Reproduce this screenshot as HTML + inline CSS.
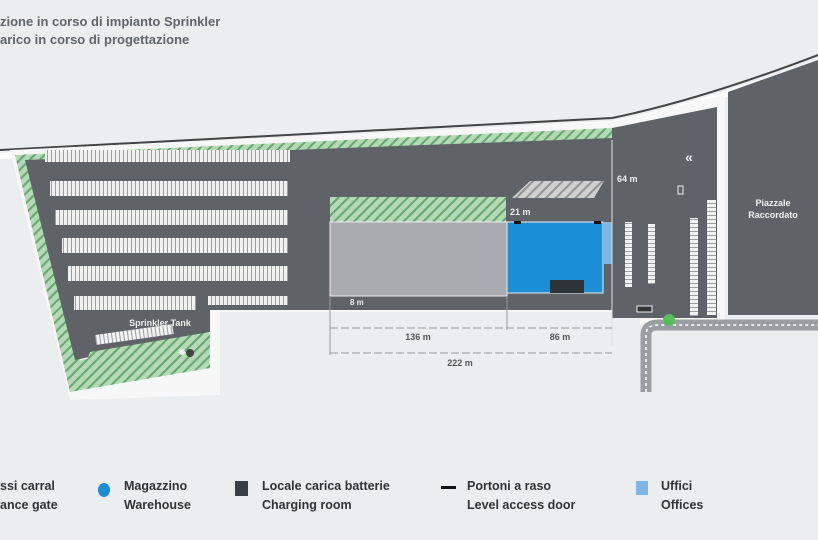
<!DOCTYPE html>
<html><head><meta charset="utf-8"><style>
html,body{margin:0;padding:0;background:#ebedee;}
svg{display:block}
text{font-family:"Liberation Sans",sans-serif;font-weight:bold}
</style></head><body>
<svg width="818" height="540" viewBox="0 0 818 540" xmlns="http://www.w3.org/2000/svg">
<defs>
<pattern id="hatch" width="7" height="7" patternUnits="userSpaceOnUse" patternTransform="rotate(45)">
<rect width="7" height="7" fill="#b2dbb5"/><rect width="2" height="7" fill="#68a470"/></pattern>
<pattern id="park" width="4" height="10" patternUnits="userSpaceOnUse">
<rect width="4" height="10" fill="#f2f2f2"/><rect x="3" width="1" height="10" fill="#9a9da1"/></pattern>
<pattern id="vpark" width="10" height="4" patternUnits="userSpaceOnUse">
<rect width="10" height="4" fill="#f2f2f2"/><rect y="3" width="10" height="1" fill="#9a9da1"/></pattern>
</defs>
<rect width="818" height="540" fill="#ebedee"/>
<text x="0" y="26" font-size="13" fill="#60656b">zione in corso di impianto Sprinkler</text>
<text x="0" y="44" font-size="13" fill="#60656b">arico in corso di progettazione</text>
<path d="M0,150 L612,118 Q700,100 818,55" stroke="#444" stroke-width="2" fill="none"/>
<path d="M0,156 L612,124 Q700,106 818,62" stroke="#fff" stroke-width="6" fill="none"/>
<polygon points="10,150 612,122 725,95 725,325 640,325 640,312 220,312 220,395 70,400" fill="#f7f7f7"/>
<polygon points="15,155 612,128 612,145 40,165 80,360 210,340 210,368 70,392" fill="url(#hatch)"/>
<polygon points="25,160 612,138 612,310 210,310 210,332 75,360" fill="#5f6367"/>
<polygon points="612,128 717,107 717,318 612,318" fill="#5f6367"/>
<polygon points="728,92 818,60 818,315 728,315" fill="#5f6367"/>
<text x="773" y="206" font-size="9" fill="#f0f0f0" text-anchor="middle">Piazzale</text>
<text x="773" y="218" font-size="9" fill="#f0f0f0" text-anchor="middle">Raccordato</text>
<polygon points="90,352 210,332 210,368 80,380" fill="url(#hatch)"/>
<rect x="45" y="150" width="245" height="12" fill="url(#park)"/>
<rect x="50" y="181" width="238" height="15" fill="url(#park)"/>
<rect x="55" y="210" width="233" height="15" fill="url(#park)"/>
<rect x="62" y="238" width="226" height="15" fill="url(#park)"/>
<rect x="68" y="266" width="220" height="15" fill="url(#park)"/>
<rect x="74" y="296" width="122" height="14" fill="url(#park)"/>
<rect x="208" y="296" width="80" height="9" fill="url(#park)"/>
<rect x="95" y="335" width="78" height="10" fill="url(#park)" transform="rotate(-8 95 335)"/>
<text x="160" y="326" font-size="9" fill="#eee" text-anchor="middle">Sprinkler Tank</text>
<circle cx="190" cy="353" r="4" fill="#444"/><circle cx="182" cy="352" r="3" fill="#eee"/>
<rect x="330" y="197" width="176" height="25" fill="url(#hatch)"/>
<rect x="330" y="222" width="177" height="74" fill="#a9abb0" stroke="#eee"/>
<text x="350" y="305" font-size="8" fill="#eee">8 m</text>
<rect x="507" y="222" width="96" height="71" fill="#1a8fd6" stroke="#eee"/>
<rect x="603" y="222" width="9" height="42" fill="#7fb7e3"/>
<rect x="550" y="280" width="34" height="13" fill="#2e3338"/>
<rect x="514" y="221" width="7" height="3" fill="#111"/><rect x="594" y="221" width="7" height="3" fill="#111"/>
<polygon points="530,181 604,181 594,198 512,198" fill="url(#hatch)" style="filter:grayscale(1)"/>
<rect x="625" y="222" width="7" height="65" fill="url(#vpark)"/>
<rect x="648" y="224" width="7" height="60" fill="url(#vpark)"/>
<rect x="690" y="218" width="8" height="98" fill="url(#vpark)"/>
<rect x="707" y="200" width="9" height="115" fill="url(#vpark)"/>
<text x="689" y="162" font-size="14" fill="#eee" text-anchor="middle">«</text>
<rect x="678" y="186" width="5" height="8" fill="none" stroke="#eee"/>
<line x1="612" y1="140" x2="612" y2="345" stroke="#ddd" stroke-width="1"/>
<text x="617" y="182" font-size="9" fill="#eee">64 m</text>
<text x="510" y="215" font-size="9" fill="#eee">21 m</text>
<line x1="330" y1="328" x2="612" y2="328" stroke="#999" stroke-dasharray="8 3"/>
<line x1="507" y1="296" x2="507" y2="330" stroke="#999"/>
<line x1="330" y1="296" x2="330" y2="355" stroke="#999"/>
<line x1="330" y1="353" x2="612" y2="353" stroke="#999" stroke-dasharray="8 3"/>
<text x="418" y="340" font-size="9" fill="#555" text-anchor="middle">136 m</text>
<text x="560" y="340" font-size="9" fill="#555" text-anchor="middle">86 m</text>
<text x="460" y="366" font-size="9" fill="#555" text-anchor="middle">222 m</text>
<path d="M646,392 L646,335 Q646,325 658,325 L818,325" stroke="#9a9da1" stroke-width="11" fill="none"/>
<path d="M646,392 L646,335 Q646,325 658,325 L818,325" stroke="#fff" stroke-width="1.5" stroke-dasharray="3 3" fill="none"/>
<rect x="637" y="306" width="15" height="6" fill="#333" stroke="#eee"/>
<circle cx="669" cy="320" r="6" fill="#55c05a"/>
<text x="0" y="490" font-size="12.5" fill="#333">ssi carral</text>
<text x="0" y="509" font-size="12.5" fill="#333">ance gate</text>
<ellipse cx="104" cy="490" rx="6" ry="7" fill="#1a8fd6"/>
<text x="124" y="490" font-size="12.5" fill="#333">Magazzino</text>
<text x="124" y="509" font-size="12.5" fill="#333">Warehouse</text>
<rect x="235" y="481" width="13" height="15" fill="#3a3f45"/>
<text x="262" y="490" font-size="12.5" fill="#333">Locale carica batterie</text>
<text x="262" y="509" font-size="12.5" fill="#333">Charging room</text>
<rect x="441" y="486" width="15" height="3" fill="#111"/>
<text x="467" y="490" font-size="12.5" fill="#333">Portoni a raso</text>
<text x="467" y="509" font-size="12.5" fill="#333">Level access door</text>
<rect x="636" y="481" width="12" height="14" fill="#7fb7e3"/>
<text x="661" y="490" font-size="12.5" fill="#333">Uffici</text>
<text x="661" y="509" font-size="12.5" fill="#333">Offices</text>
</svg>
</body></html>
